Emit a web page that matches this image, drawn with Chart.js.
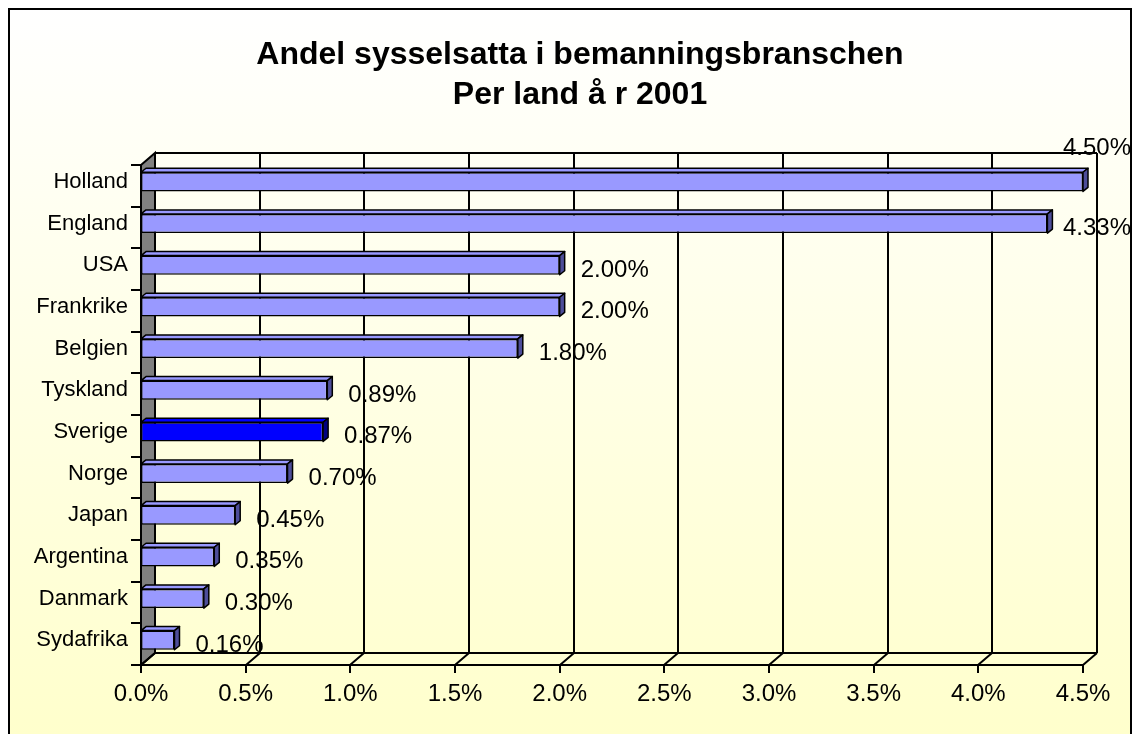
<!DOCTYPE html>
<html>
<head>
<meta charset="utf-8">
<script src="https://cdn.jsdelivr.net/npm/chart.js@4"></script>
<style>
    html, body { margin: 0; padding: 0; background: #ffffff; }
</style>
</head>
<body>
<canvas id="shareChart" width="1133" height="734"></canvas>
<script>
// Data
const countries = [
    'Holland', 'England', 'USA', 'Frankrike', 'Belgien', 'Tyskland',
    'Sverige', 'Norge', 'Japan', 'Argentina', 'Danmark', 'Sydafrika'
];
const shares = [4.50, 4.33, 2.00, 2.00, 1.80, 0.89, 0.87, 0.70, 0.45, 0.35, 0.30, 0.16];
const highlightCountry = 'Sverige';
const titleLines = ['Andel sysselsatta i bemanningsbranschen', 'Per land å r 2001'];

const fontFamily = '"Liberation Sans", Arial, sans-serif';
const wallDx = 14;   // 3D offset of the back wall
const wallDy = 12;
const barDx = 5;     // 3D depth of each bar
const barDy = 4;

const barColors = countries.map(c => c === highlightCountry ? '#0000ff' : '#9999ff');
const sideColors = countries.map(c => c === highlightCountry ? '#000080' : '#4d4d99');

// Background gradient and the outer frame
const backgroundPlugin = {
    id: 'backgroundFrame',
    beforeDraw(chart) {
        const ctx = chart.ctx;
        ctx.save();
        ctx.fillStyle = '#ffffff';
        ctx.fillRect(0, 0, chart.width, chart.height);
        const grad = ctx.createLinearGradient(0, 9, 0, chart.height);
        grad.addColorStop(0, '#ffffff');
        grad.addColorStop(1, '#ffffcc');
        ctx.fillStyle = grad;
        ctx.fillRect(9, 9, chart.width - 11, chart.height);
        ctx.strokeStyle = '#000000';
        ctx.lineWidth = 2;
        ctx.strokeRect(9, 9, chart.width - 11, chart.height + 10);
        ctx.restore();
    },
    // the title in the original is centred a bit right of the plot
    afterLayout(chart) {
        chart.titleBlock.left = 27;
        chart.titleBlock.right = chart.width;
    }
};

// Walls, gridlines and ticks of the 3D plot
const wallPlugin = {
    id: 'walls3d',
    beforeDatasetsDraw(chart) {
        const ctx = chart.ctx;
        const area = chart.chartArea;
        const xs = chart.scales.x;
        const ys = chart.scales.y;
        const top = area.top + 4;
        const bottom = area.bottom + 4;
        const x0 = xs.getPixelForValue(xs.min);
        const x1 = xs.getPixelForValue(xs.max);

        ctx.save();
        ctx.strokeStyle = '#000000';
        ctx.lineWidth = 2;

        // left side wall
        ctx.beginPath();
        ctx.moveTo(x0, top);
        ctx.lineTo(x0 + wallDx, top - wallDy);
        ctx.lineTo(x0 + wallDx, bottom - wallDy);
        ctx.lineTo(x0, bottom);
        ctx.closePath();
        ctx.fillStyle = '#808080';
        ctx.fill();
        ctx.stroke();

        // back wall gridlines, floor diagonals and tick marks
        xs.ticks.forEach(t => {
            const fx = Math.round(xs.getPixelForValue(t.value));
            ctx.beginPath();
            ctx.moveTo(fx + wallDx, top - wallDy);
            ctx.lineTo(fx + wallDx, bottom - wallDy);
            ctx.moveTo(fx, bottom);
            ctx.lineTo(fx + wallDx, bottom - wallDy);
            ctx.moveTo(fx, bottom);
            ctx.lineTo(fx, bottom + 8);
            ctx.stroke();
        });

        ctx.beginPath();
        ctx.moveTo(x0 + wallDx, top - wallDy);
        ctx.lineTo(x1 + wallDx, top - wallDy);
        ctx.moveTo(x0 + wallDx, bottom - wallDy);
        ctx.lineTo(x1 + wallDx, bottom - wallDy);
        ctx.moveTo(x0, bottom);
        ctx.lineTo(x1, bottom);
        ctx.stroke();

        // category tick marks on the left
        const band = Math.abs(ys.getPixelForValue(1) - ys.getPixelForValue(0));
        for (let i = 0; i <= countries.length; i++) {
            const y = Math.round(ys.getPixelForValue(0) - band / 2 + i * band + 4);
            ctx.beginPath();
            ctx.moveTo(x0 - 10, y);
            ctx.lineTo(x0, y);
            ctx.stroke();
        }
        ctx.restore();
    },
    afterDatasetsDraw(chart) {
        const ctx = chart.ctx;
        const meta = chart.getDatasetMeta(0);
        ctx.save();
        ctx.strokeStyle = '#000000';
        ctx.lineWidth = 1.5;
        ctx.lineJoin = 'round';

        meta.data.forEach((bar, i) => {
            const p = bar.getProps(['x', 'y', 'base', 'height'], true);
            const t = p.y - p.height / 2;
            const b = p.y + p.height / 2;

            // top face
            ctx.beginPath();
            ctx.moveTo(p.base, t);
            ctx.lineTo(p.base + barDx, t - barDy);
            ctx.lineTo(p.x + barDx, t - barDy);
            ctx.lineTo(p.x, t);
            ctx.closePath();
            ctx.fillStyle = barColors[i];
            ctx.fill();
            ctx.stroke();

            // side face
            ctx.beginPath();
            ctx.moveTo(p.x, t);
            ctx.lineTo(p.x + barDx, t - barDy);
            ctx.lineTo(p.x + barDx, b - barDy);
            ctx.lineTo(p.x, b);
            ctx.closePath();
            ctx.fillStyle = sideColors[i];
            ctx.fill();
            ctx.stroke();
        });

        // value labels
        ctx.font = '24px ' + fontFamily;
        ctx.fillStyle = '#000000';
        ctx.textAlign = 'left';
        ctx.textBaseline = 'middle';
        const rightLimit = chart.width - 2;
        meta.data.forEach((bar, i) => {
            const p = bar.getProps(['x', 'y'], true);
            const text = shares[i].toFixed(2) + '%';
            const w = ctx.measureText(text).width;
            let x = p.x + 21;
            let y = p.y + 5;
            if (x + w > rightLimit) {
                x = rightLimit - w;
                if (x < p.x + barDx + 6) {
                    y -= 38;
                }
            }
            ctx.fillText(text, x, y);
        });
        ctx.restore();
    }
};

const ctx = document.getElementById('shareChart').getContext('2d');
const shareChart = new Chart(ctx, {
    type: 'bar',
    data: {
        labels: countries,
        datasets: [{
            label: 'Andel',
            data: shares,
            backgroundColor: barColors,
            borderColor: '#000000',
            borderWidth: 1.5,
            borderSkipped: false,
            barPercentage: 0.46,
            categoryPercentage: 1.0
        }]
    },
    options: {
        indexAxis: 'y',
        responsive: false,
        animation: false,
        devicePixelRatio: 1,
        layout: {
            padding: { left: 0, right: 50, top: 0, bottom: 0 }
        },
        plugins: {
            legend: { display: false },
            tooltip: { enabled: false },
            title: {
                display: true,
                text: titleLines,
                color: '#000000',
                font: { family: fontFamily, size: 32, weight: 'bold', lineHeight: 40 / 32 },
                padding: { top: 35, bottom: 46 }
            }
        },
        scales: {
            x: {
                min: 0,
                max: 4.5,
                grid: { display: false, drawTicks: false },
                border: { display: false },
                ticks: {
                    stepSize: 0.5,
                    padding: 19,
                    color: '#000000',
                    font: { family: fontFamily, size: 24 },
                    maxRotation: 0,
                    callback: v => v.toFixed(1) + '%'
                },
                afterFit: scale => { scale.height = 73; }
            },
            y: {
                grid: { display: false, drawTicks: false },
                border: { display: false },
                ticks: {
                    padding: 13,
                    color: '#000000',
                    font: { family: fontFamily, size: 22 }
                },
                afterFit: scale => { scale.width = 141; }
            }
        }
    },
    plugins: [backgroundPlugin, wallPlugin]
});
</script>
</body>
</html>
